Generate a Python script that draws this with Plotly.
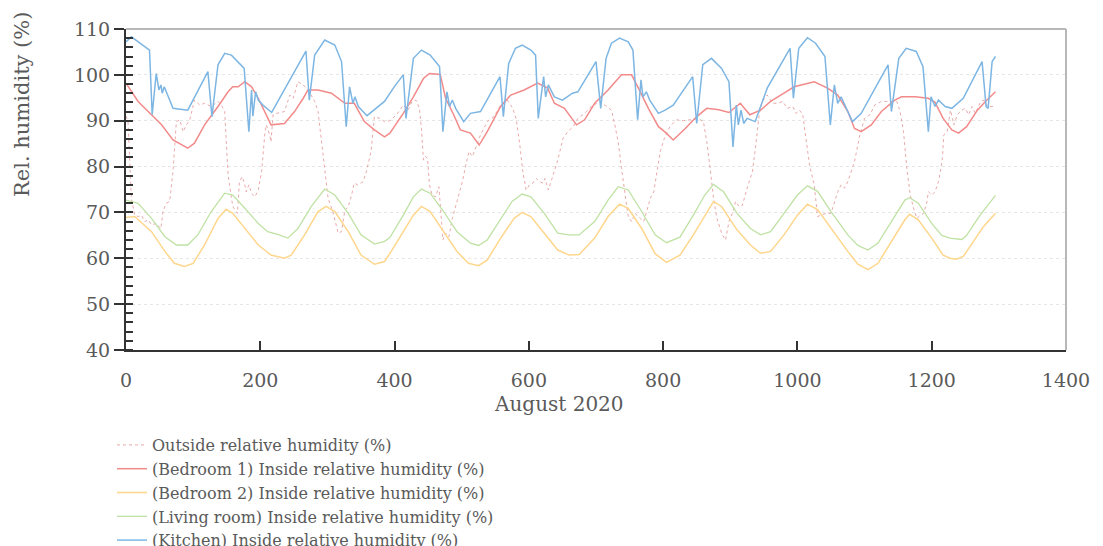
import plotly.graph_objects as go

# ---- data (x = hour index in August 2020, y = %RH) ----
outside_x = [0, 3, 8, 13, 18, 23, 28, 33, 38, 45, 52, 55, 60, 65, 70, 75, 80, 85, 90, 95, 102, 110, 117, 127, 137, 142, 147, 152, 159, 166, 169, 173, 177, 179, 183, 187, 192, 197, 202, 207, 209, 214, 216, 219, 224, 236, 244, 249, 256, 264, 273, 281, 286, 293, 301, 308, 316, 321, 326, 331, 336, 340, 345, 353, 358, 365, 370, 378, 385, 393, 403, 413, 420, 426, 432, 437, 440, 443, 446, 449, 452, 456, 461, 466, 468, 472, 476, 481, 486, 491, 496, 501, 506, 511, 516, 521, 528, 538, 548, 558, 568, 576, 581, 586, 591, 596, 601, 606, 611, 616, 621, 624, 629, 633, 638, 643, 651, 658, 666, 673, 683, 693, 706, 716, 723, 728, 733, 738, 743, 748, 753, 758, 766, 771, 776, 781, 786, 791, 796, 802, 810, 820, 830, 840, 853, 860, 865, 870, 875, 880, 888, 893, 898, 903, 908, 913, 918, 925, 933, 938, 943, 948, 955, 963, 970, 978, 985, 993, 998, 1003, 1008, 1013, 1018, 1025, 1030, 1035, 1043, 1050, 1055, 1060, 1065, 1070, 1075, 1080, 1085, 1093, 1100, 1108, 1115, 1125, 1140, 1148, 1153, 1158, 1163, 1168, 1173, 1178, 1183, 1188, 1193, 1195, 1200, 1205, 1210, 1213, 1216, 1218, 1223, 1228, 1233, 1238, 1245, 1250, 1255, 1260, 1265, 1273, 1278, 1283, 1295]
outside_y = [91.0, 89.8, 73.1, 69.4, 69.1, 69.4, 68.0, 68.4, 67.3, 67.6, 66.5, 70.2, 72.0, 72.4, 78.9, 89.8, 90.2, 87.6, 89.1, 90.2, 94.5, 93.4, 93.8, 93.1, 94.2, 93.4, 92.0, 78.2, 71.3, 69.8, 76.7, 77.8, 76.0, 74.5, 76.0, 74.2, 73.4, 74.9, 78.9, 87.6, 89.1, 86.9, 85.4, 91.3, 91.6, 92.0, 95.6, 94.9, 98.5, 97.8, 96.3, 94.2, 92.0, 83.3, 73.1, 70.2, 65.5, 65.8, 70.5, 71.3, 73.8, 76.4, 76.0, 76.7, 78.9, 83.3, 90.9, 90.5, 89.8, 90.0, 91.3, 93.4, 92.3, 94.2, 94.5, 92.7, 88.3, 81.4, 82.2, 81.8, 76.0, 73.8, 73.4, 75.6, 71.6, 64.0, 65.5, 64.7, 68.7, 71.3, 73.8, 76.7, 80.3, 83.3, 82.2, 84.0, 86.9, 89.8, 90.9, 93.4, 94.5, 92.7, 90.5, 85.4, 78.9, 74.9, 76.0, 76.4, 77.4, 76.7, 76.4, 77.4, 74.9, 76.7, 78.9, 81.4, 86.2, 87.6, 88.7, 90.5, 91.6, 93.1, 94.2, 93.1, 92.3, 89.1, 85.4, 79.6, 74.5, 69.1, 68.0, 69.8, 68.7, 68.0, 70.5, 73.1, 74.5, 78.9, 83.5, 86.2, 88.7, 90.2, 90.0, 90.2, 90.4, 89.8, 85.4, 79.6, 73.1, 68.7, 65.1, 64.0, 68.0, 69.8, 72.4, 71.3, 71.5, 75.3, 78.9, 84.7, 91.3, 94.2, 95.6, 93.8, 93.8, 94.2, 92.7, 93.1, 91.6, 92.3, 91.3, 85.8, 80.3, 76.0, 69.1, 69.4, 69.8, 69.8, 72.0, 74.5, 76.0, 75.3, 76.7, 78.9, 81.1, 86.9, 90.5, 91.3, 93.4, 94.2, 94.2, 94.2, 92.0, 87.6, 79.6, 73.8, 70.9, 68.7, 69.4, 69.8, 72.4, 74.5, 73.8, 74.5, 76.7, 78.9, 82.0, 86.9, 87.6, 92.3, 89.1, 91.3, 92.3, 92.7, 91.3, 93.1, 91.6, 94.2, 94.5, 93.1, 93.1]

bed1_x = [0, 18, 38, 53, 70, 92, 102, 117, 137, 152, 159, 167, 177, 187, 197, 207, 216, 236, 251, 264, 271, 286, 306, 326, 340, 355, 370, 385, 393, 413, 428, 443, 452, 468, 476, 488, 498, 513, 526, 538, 558, 573, 593, 613, 628, 638, 653, 671, 683, 698, 718, 738, 753, 766, 778, 793, 803, 815, 833, 850, 865, 883, 898, 915, 929, 945, 960, 980, 995, 1025, 1045, 1060, 1075, 1085, 1095, 1110, 1125, 1145, 1155, 1175, 1195, 1205, 1217, 1230, 1240, 1252, 1268, 1280, 1295]
bed1_y = [98.2, 94.2, 91.3, 89.1, 85.8, 84.0, 85.1, 89.1, 93.1, 96.3, 97.4, 97.4, 98.5, 97.4, 94.9, 92.0, 89.1, 89.4, 92.0, 94.9, 96.7, 96.7, 96.0, 93.8, 93.8, 89.8, 88.0, 86.5, 87.3, 91.6, 95.2, 99.2, 100.3, 100.1, 94.9, 91.3, 88.0, 87.3, 84.7, 87.6, 93.1, 95.6, 96.7, 98.2, 97.1, 93.8, 92.7, 89.1, 90.2, 93.8, 96.7, 100.0, 100.0, 96.3, 92.7, 88.7, 87.5, 85.8, 88.3, 90.9, 92.7, 92.4, 91.8, 93.8, 91.3, 92.3, 94.2, 96.0, 97.4, 98.5, 97.1, 95.6, 92.0, 88.3, 87.6, 89.1, 92.0, 94.5, 95.2, 95.2, 94.9, 94.0, 90.5, 88.0, 87.3, 88.7, 92.3, 94.2, 96.3]

bed2_x = [0, 13, 38, 58, 72, 87, 100, 117, 137, 149, 159, 177, 197, 216, 236, 246, 266, 286, 298, 311, 331, 350, 370, 385, 395, 413, 428, 440, 453, 473, 493, 510, 525, 538, 558, 578, 590, 603, 623, 643, 660, 675, 698, 718, 735, 748, 768, 788, 805, 825, 845, 862, 875, 887, 910, 930, 945, 960, 980, 1000, 1015, 1030, 1050, 1075, 1090, 1105, 1120, 1140, 1160, 1167, 1180, 1200, 1217, 1227, 1237, 1247, 1262, 1277, 1295]
bed2_y = [68.9, 69.1, 65.8, 61.5, 58.9, 58.2, 58.9, 62.9, 68.7, 70.7, 69.8, 66.5, 62.9, 60.7, 60.0, 60.7, 65.1, 70.2, 71.3, 70.2, 65.8, 60.7, 58.7, 59.3, 61.5, 65.8, 69.4, 71.3, 70.2, 65.8, 61.5, 58.9, 58.4, 59.6, 64.4, 68.7, 70.0, 69.1, 65.5, 61.8, 60.7, 60.8, 64.4, 69.1, 71.8, 70.9, 66.5, 61.0, 59.1, 60.7, 65.1, 69.4, 72.4, 71.3, 66.2, 62.9, 61.1, 61.5, 65.1, 69.4, 71.8, 70.6, 66.5, 61.5, 58.7, 57.5, 58.9, 63.6, 68.4, 69.6, 68.4, 64.4, 60.7, 60.0, 59.8, 60.4, 63.6, 66.9, 69.8]

living_x = [0, 18, 38, 58, 75, 92, 107, 127, 147, 159, 177, 197, 211, 226, 241, 256, 276, 296, 311, 331, 350, 370, 385, 393, 413, 428, 440, 453, 473, 493, 513, 525, 538, 558, 575, 590, 603, 623, 643, 660, 675, 698, 718, 733, 748, 768, 788, 805, 825, 845, 862, 875, 890, 910, 930, 945, 960, 980, 1000, 1015, 1030, 1050, 1075, 1090, 1105, 1120, 1140, 1160, 1167, 1180, 1200, 1215, 1227, 1245, 1252, 1272, 1295]
living_y = [72.7, 72.0, 68.7, 64.7, 62.9, 62.9, 65.1, 70.2, 74.2, 73.8, 70.9, 67.6, 65.8, 65.2, 64.4, 66.5, 71.3, 75.1, 73.8, 69.8, 65.1, 63.1, 63.7, 64.5, 69.4, 73.4, 75.1, 74.2, 70.2, 65.8, 63.3, 62.8, 64.0, 68.7, 72.4, 74.0, 73.4, 69.8, 65.5, 65.1, 65.1, 68.0, 72.7, 75.6, 74.9, 70.2, 65.1, 63.4, 64.6, 69.4, 73.8, 76.1, 74.5, 69.8, 66.5, 65.1, 65.8, 69.8, 73.8, 75.8, 74.6, 70.2, 65.1, 62.8, 61.8, 63.3, 68.0, 72.7, 73.2, 72.0, 67.6, 65.0, 64.4, 64.1, 65.0, 69.4, 73.7]

kitchen_x = [0, 8, 35, 39, 45, 49, 52, 54, 57, 70, 92, 122, 128, 137, 147, 157, 176, 183, 187, 189, 193, 197, 204, 217, 268, 273, 281, 296, 311, 321, 328, 333, 338, 341, 346, 359, 385, 400, 413, 417, 428, 440, 453, 467, 472, 478, 482, 486, 491, 503, 513, 528, 557, 562, 570, 580, 590, 603, 610, 614, 622, 625, 629, 638, 650, 665, 673, 700, 707, 715, 723, 735, 748, 755, 762, 767, 770, 775, 780, 793, 803, 815, 844, 850, 859, 872, 887, 898, 904, 909, 912, 916, 920, 925, 937, 955, 989, 994, 1002, 1015, 1027, 1041, 1049, 1055, 1060, 1065, 1082, 1095, 1135, 1140, 1151, 1162, 1177, 1187, 1195, 1199, 1205, 1210, 1220, 1230, 1247, 1275, 1281, 1284, 1290, 1295]
kitchen_y = [107.2, 108.3, 105.4, 91.3, 100.3, 96.7, 97.8, 96.0, 97.4, 92.7, 92.3, 100.7, 90.9, 102.2, 104.7, 104.3, 101.4, 87.6, 96.7, 91.0, 96.3, 94.5, 93.4, 91.8, 105.2, 94.5, 104.3, 107.6, 106.5, 102.9, 88.7, 97.4, 93.8, 95.2, 93.1, 91.1, 94.2, 97.5, 100.0, 90.5, 103.6, 105.4, 104.3, 101.8, 87.6, 96.3, 93.1, 94.5, 92.7, 89.8, 91.6, 92.0, 99.6, 90.9, 102.5, 105.8, 106.5, 105.4, 104.3, 90.5, 99.6, 95.2, 97.8, 95.2, 94.5, 96.0, 96.3, 102.9, 92.7, 103.6, 106.9, 108.0, 107.2, 105.4, 90.2, 98.9, 95.2, 96.3, 94.5, 91.6, 92.3, 93.4, 99.6, 89.4, 102.2, 103.6, 101.4, 98.5, 84.3, 93.4, 89.1, 92.3, 89.4, 90.5, 89.8, 97.1, 105.8, 94.9, 105.8, 108.1, 106.9, 104.0, 89.1, 97.8, 93.8, 95.2, 89.8, 91.6, 102.2, 92.0, 103.6, 105.8, 105.1, 101.8, 87.6, 95.2, 93.1, 94.5, 93.1, 92.7, 94.9, 102.9, 93.1, 92.7, 102.9, 104.0]

series_names = [
    "Outside relative humidity (%)",
    "(Bedroom 1) Inside relative humidity (%)",
    "(Bedroom 2) Inside relative humidity (%)",
    "(Living room) Inside relative humidity (%)",
    "(Kitchen) Inside relative humidity (%)",
]
x_ticks = [0, 200, 400, 600, 800, 1000, 1200, 1400]
y_ticks = [40, 50, 60, 70, 80, 90, 100, 110]

SERIF = "DejaVu Serif"
TXT = "#5a5a5a"
AX = "#333333"

# plot-area geometry in pixels
L, R, T, B = 126, 37, 29, 196
PW, PH = 1103 - L - R, 546 - T - B

fig = go.Figure()
styles = [
    dict(color="rgba(226,140,140,0.75)", width=1, dash="dot"),
    dict(color="#f28a8a", width=1.5),
    dict(color="#fed68c", width=1.5),
    dict(color="#bfe2a4", width=1.3),
    dict(color="#7db6e3", width=1.5),
]
data = [(outside_x, outside_y), (bed1_x, bed1_y), (bed2_x, bed2_y),
        (living_x, living_y), (kitchen_x, kitchen_y)]
for (xs, ys), name, st in zip(data, series_names, styles):
    fig.add_trace(go.Scatter(x=xs, y=ys, mode="lines", name=name, line=st))

fig.update_layout(
    width=1103, height=546,
    margin=dict(l=L, r=R, t=T, b=B, autoexpand=False),
    paper_bgcolor="white", plot_bgcolor="white",
    font=dict(family=SERIF, color=TXT),
    showlegend=True,
    legend=dict(
        x=(112 - L) / PW, y=-(428 - (T + PH)) / PH, xanchor="left", yanchor="top",
        font=dict(family=SERIF, size=16, color=TXT),
        itemwidth=30, tracegroupgap=0, bgcolor="rgba(0,0,0,0)",
    ),
    xaxis=dict(
        range=[0, 1400], tickmode="array", tickvals=x_ticks,
        ticks="inside", ticklen=9, tickwidth=2, tickcolor=AX,
        showline=True, linecolor=AX, linewidth=2,
        showgrid=False, zeroline=False,
        tickfont=dict(family=SERIF, size=19, color=TXT),
        ticklabelstandoff=12,
    ),
    yaxis=dict(
        range=[40, 110], tickmode="array", tickvals=y_ticks,
        ticks="outside", ticklen=10, tickwidth=2, tickcolor=AX,
        showline=True, linecolor=AX, linewidth=2,
        showgrid=True, gridcolor="#e6e6e6", griddash="dot", gridwidth=1,
        zeroline=False,
        minor=dict(dtick=2, tick0=40, ticks="inside", ticklen=7, tickwidth=1.5,
                   tickcolor=AX, showgrid=False),
        tickfont=dict(family=SERIF, size=19, color=TXT),
    ),
    yaxis2=dict(
        overlaying="y", range=[40, 110], tickmode="array", tickvals=y_ticks,
        ticks="inside", ticklen=10, tickwidth=2, tickcolor=AX,
        showticklabels=False, showgrid=False, showline=False, zeroline=False,
    ),
)

# plot frame (top and right borders)
fig.add_shape(type="line", xref="paper", yref="paper", x0=0, x1=1, y0=1, y1=1,
              line=dict(color="#b8b8b8", width=2))
fig.add_shape(type="line", xref="paper", yref="paper", x0=1, x1=1, y0=0, y1=1,
              line=dict(color="#b8b8b8", width=2))

# axis titles
fig.add_annotation(text="August 2020", xref="paper", yref="paper",
                   x=(559 - L) / PW, y=-(404 - (T + PH)) / PH, xanchor="center", yanchor="middle",
                   showarrow=False, font=dict(family=SERIF, size=20, color=TXT))
fig.add_annotation(text="Rel. humidity (%)", xref="paper", yref="paper",
                   x=-(L - 22) / PW, y=((T + PH) - 105) / PH, xanchor="center", yanchor="middle",
                   textangle=-90, showarrow=False, font=dict(family=SERIF, size=21, color=TXT))

fig.write_html("out.html")
